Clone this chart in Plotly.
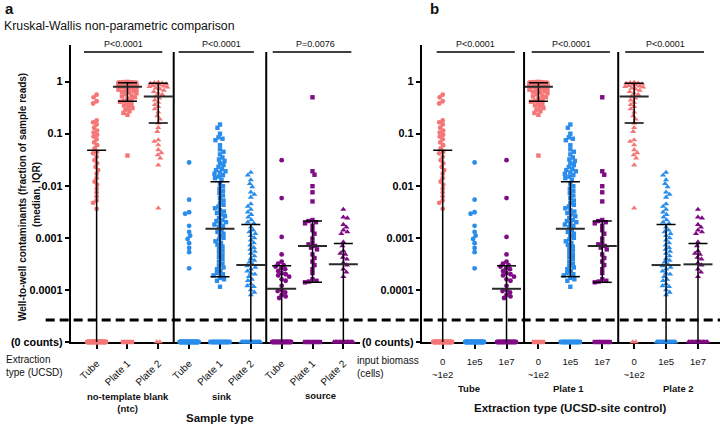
import math
import plotly.graph_objects as go

W, H = 720, 426
FONT = "Liberation Sans, Arial, Helvetica, sans-serif"

# ---------------- data (fractions of sample reads; zero-count samples listed as counts) -------------
SAMPLE_TYPES = ["ntc", "sink", "source"]
SAMPLE_LABELS = ["no-template blank<br>(ntc)", "sink", "source"]
EXTRACTIONS = ["Tube", "Plate 1", "Plate 2"]
BIOMASS_LABELS = ["0<br>~1e2", "1e5", "1e7"]

NTC_TUBE = [0.56, 0.5, 0.42, 0.38, 0.18, 0.165, 0.15, 0.13, 0.115, 0.105, 0.095, 0.088, 0.078,
            0.068, 0.06, 0.052, 0.045, 0.042, 0.036, 0.031, 0.027, 0.023, 0.02, 0.017, 0.014,
            0.012, 0.0105, 0.0088, 0.0074, 0.0062, 0.0052, 0.0047, 0.0036]
NTC_PLATE1 = [0.99, 0.98, 0.97, 0.97, 0.96, 0.96, 0.95, 0.95, 0.94, 0.93, 0.93, 0.92, 0.91, 0.9,
              0.9, 0.89, 0.88, 0.87, 0.86, 0.85, 0.84, 0.83, 0.82, 0.81, 0.8, 0.79, 0.78, 0.76,
              0.74, 0.72, 0.7, 0.68, 0.66, 0.64, 0.62, 0.6, 0.57, 0.54, 0.52, 0.5, 0.47, 0.45,
              0.43, 0.41, 0.39, 0.37, 0.35, 0.33, 0.31, 0.29, 0.27, 0.25, 0.23, 0.038]
NTC_PLATE2 = [0.97, 0.95, 0.93, 0.92, 0.9, 0.88, 0.86, 0.84, 0.82, 0.8, 0.78, 0.75, 0.72, 0.68,
              0.64, 0.6, 0.56, 0.52, 0.48, 0.44, 0.4, 0.36, 0.33, 0.3, 0.26, 0.22, 0.19, 0.16,
              0.13, 0.11, 0.076, 0.071, 0.061, 0.049, 0.043, 0.039, 0.034, 0.025, 0.0037]
SINK_TUBE = [0.028, 0.0054, 0.0031, 0.0029, 0.0017, 0.0013, 0.0011, 0.00095, 0.00079, 0.00064,
             0.00053, 0.00026]
SINK_PLATE1 = [0.15, 0.13, 0.1, 0.085, 0.08, 0.075, 0.06, 0.05, 0.045, 0.04, 0.035, 0.032, 0.03,
               0.027, 0.025, 0.023, 0.021, 0.02, 0.019, 0.018, 0.017, 0.016, 0.015, 0.014, 0.013,
               0.011, 0.0098, 0.0088, 0.008, 0.0072, 0.0065, 0.0058, 0.0052, 0.0047, 0.0043,
               0.004, 0.0037, 0.0034, 0.0032, 0.003, 0.0028, 0.0026, 0.0024, 0.0022, 0.0021,
               0.002, 0.0019, 0.0018, 0.0017, 0.0016, 0.0014, 0.0013, 0.0012, 0.0011, 0.001,
               0.00093, 0.00086, 0.0008, 0.00074, 0.00068, 0.00062, 0.00057, 0.00052, 0.00047,
               0.00043, 0.00039, 0.00035, 0.00032, 0.00029, 0.00027, 0.00025, 0.00023, 0.00021,
               0.0002, 0.00019, 0.00017, 0.00016, 0.00015, 0.000115]
SINK_PLATE2 = [0.018, 0.016, 0.013, 0.011, 0.0095, 0.0075, 0.0068, 0.006, 0.0045, 0.004, 0.0035,
               0.0031, 0.0028, 0.0025, 0.0022, 0.002, 0.0019, 0.0016, 0.0014, 0.0013, 0.0012,
               0.0011, 0.001, 0.0009, 0.0008, 0.00072, 0.00065, 0.0006, 0.00055, 0.0005, 0.00045,
               0.0004, 0.00037, 0.00034, 0.00031, 0.00029, 0.00027, 0.00025, 0.00023, 0.00021,
               0.0002, 0.00018, 0.00016, 0.00015, 0.00013, 0.00012, 0.000115, 0.0001, 0.00009,
               0.00008]
SOURCE_TUBE = [0.031, 0.0058, 0.00104, 0.00048, 0.00035, 0.00032, 0.0003, 0.00028, 0.00026,
               0.00025, 0.00023, 0.00021, 0.0002, 0.00019, 0.00018, 0.00016, 0.00015, 0.00012,
               0.0001, 0.000095, 0.00009, 0.00008, 0.000075, 0.00007]
SOURCE_PLATE1 = [0.5, 0.019, 0.0163, 0.0098, 0.0075, 0.005, 0.0022, 0.0021, 0.002, 0.0019,
                 0.0017, 0.0014, 0.0012, 0.00097, 0.0008, 0.00075, 0.0007, 0.00065, 0.0006,
                 0.00048, 0.00041, 0.00035, 0.0003, 0.00025, 0.00021, 0.00016, 0.00015,
                 0.000145, 0.00014]
SOURCE_PLATE2 = [0.0035, 0.0025, 0.0024, 0.0018, 0.0016, 0.0014, 0.0013, 0.0012, 0.00083,
                 0.0007, 0.00056, 0.0005, 0.00048, 0.00042, 0.00039, 0.00033, 0.0003, 0.00025,
                 0.00022, 0.00018]

VALUES = [[NTC_TUBE, NTC_PLATE1, NTC_PLATE2],
          [SINK_TUBE, SINK_PLATE1, SINK_PLATE2],
          [SOURCE_TUBE, SOURCE_PLATE1, SOURCE_PLATE2]]
# number of samples with zero counts, [sample type][extraction]
ZERO_COUNTS = [[35, 4, 2], [40, 20, 20], [22, 6, 15]]

# median and IQR, [sample type][extraction]
MEDIAN = [[0, 0.8, 0.52], [0, 0.0015, 0.0003], [0.000105, 0.0007, 0.00031]]
Q1 = [[0, 0.42, 0.16], [0, 0.00018, 0], [0, 0.00014, 0]]
Q3 = [[0.048, 0.95, 0.93], [0, 0.012, 0.0018], [0.00029, 0.0021, 0.00078]]

P_VALUES_A = ["P<0.0001", "P<0.0001", "P=0.0076"]
P_VALUES_B = ["P<0.0001", "P<0.0001", "P<0.0001"]

Y_TICK_VALS = [1, 0.1, 0.01, 0.001, 0.0001]
Y_TICK_TEXT = ["1", "0.1", "0.01", "0.001", "0.0001"]
ZERO_LABEL = "(0 counts)"
ZERO_LEVEL = 1e-5

COLORS = ["#F47676", "#2A8DEB", "#800B86"]
SYMBOLS = ["circle", "square", "triangle-up"]
SIZES = [4.8, 4.4, 5.4]

# ---------------- layout geometry ----------------
def px(x):
    return x / W

def py(y):
    return 1 - y / H

Y_DOM = [py(342), py(45)]
Y_RANGE = [-5, 0.703]
XA_DOM = [px(70.7), px(360)]
XA_RANGE = [-0.84, 8.54]
XB_DOM = [px(421.7), 1.0]
XB_RANGE = [-0.658, 8.69]
PX_PER_DEC = (342 - 45) / (Y_RANGE[1] - Y_RANGE[0])
UNIT_A = (360 - 70.7) / (XA_RANGE[1] - XA_RANGE[0])
UNIT_B = (720 - 421.7) / (XB_RANGE[1] - XB_RANGE[0])


def swarm_offsets(vals, d=3.9, w=9.0):
    order = sorted(range(len(vals)), key=lambda i: -vals[i])
    placed = []
    offs = [0.0] * len(vals)
    steps = [k * 0.5 for k in range(0, int(w * 2) + 1)]
    for n, i in enumerate(order):
        y = math.log10(vals[i]) * PX_PER_DEC
        sign = 1 if n % 2 == 0 else -1
        cands = []
        for s in steps:
            cands.append(s * sign)
            if s:
                cands.append(-s * sign)
        near = [(qy, qx) for qy, qx in placed if abs(qy - y) < d]
        best, bestd = 0.0, -1
        for c in cands:
            md = min((math.hypot(c - qx, y - qy) for qy, qx in near), default=1e9)
            if md >= d:
                best = c
                break
            if md > bestd:
                bestd, best = md, c
        placed.append((y, best))
        offs[i] = best
    return offs


def zero_offsets(n, step=3.0, maxspan=19.0):
    if n <= 1:
        return [0.0] * n
    span = min(maxspan, (n - 1) * step)
    return [-span / 2 + k * span / (n - 1) for k in range(n)]


PANEL_A_ORDER = [(s, e) for s in range(3) for e in range(3)]
PANEL_B_ORDER = [(s, e) for e in range(3) for s in range(3)]

fig = go.Figure()

for order, xa, ya, unit in [(PANEL_A_ORDER, "x", "y", UNIT_A), (PANEL_B_ORDER, "x2", "y2", UNIT_B)]:
    whisk_x, whisk_y, med_x, med_y = [], [], [], []
    for pos, (s, e) in enumerate(order):
        vals = VALUES[s][e]
        nz = ZERO_COUNTS[s][e]
        offs = swarm_offsets(vals) + zero_offsets(nz)
        ys = list(vals) + [ZERO_LEVEL] * nz
        xs = [pos + o / unit for o in offs]
        fig.add_trace(go.Scatter(
            x=xs, y=ys, xaxis=xa, yaxis=ya, mode="markers", cliponaxis=False,
            marker=dict(symbol=SYMBOLS[e], size=SIZES[e], color=COLORS[s], line=dict(width=0)),
            hoverinfo="skip", showlegend=False))
        q1, q3, med = Q1[s][e], Q3[s][e], MEDIAN[s][e]
        cap = 9.5 / unit
        mw = 14.5 / unit
        if q3 > 0:
            lo = q1 if q1 > 0 else ZERO_LEVEL
            whisk_x += [pos, pos, None, pos - cap, pos + cap, None]
            whisk_y += [lo, q3, None, q3, q3, None]
            if q1 > 0:
                whisk_x += [pos - cap, pos + cap, None]
                whisk_y += [q1, q1, None]
        if med > 0:
            med_x += [pos - mw, pos + mw, None]
            med_y += [med, med, None]
    fig.add_trace(go.Scatter(x=whisk_x, y=whisk_y, xaxis=xa, yaxis=ya, mode="lines",
                             cliponaxis=False, line=dict(color="black", width=1.5),
                             hoverinfo="skip", showlegend=False))
    fig.add_trace(go.Scatter(x=med_x, y=med_y, xaxis=xa, yaxis=ya, mode="lines",
                             cliponaxis=False, line=dict(color="#2a2a2a", width=2),
                             hoverinfo="skip", showlegend=False))

yax = dict(type="log", range=Y_RANGE, domain=Y_DOM, showline=True, linecolor="black",
           linewidth=2, ticks="outside", ticklen=4, tickwidth=1.5, tickcolor="black",
           tickvals=Y_TICK_VALS + [ZERO_LEVEL],
           ticktext=[f"<b>{t}</b>" for t in Y_TICK_TEXT] + [f"<b>{ZERO_LABEL}</b>"],
           tickfont=dict(size=10.8, color="black", family=FONT), showgrid=False,
           zeroline=False, layer="below traces", automargin=False)
xcommon = dict(showline=True, linecolor="black", linewidth=1.5, ticks="outside", ticklen=5,
               tickwidth=1.5, tickcolor="black", showgrid=False, zeroline=False,
               tickvals=list(range(9)), layer="below traces", automargin=False)

fig.update_layout(
    width=W, height=H, template="none",
    margin=dict(l=0, r=0, t=0, b=0),
    paper_bgcolor="white", plot_bgcolor="rgba(0,0,0,0)",
    font=dict(family=FONT, color="#111"),
    showlegend=False,
    xaxis=dict(domain=XA_DOM, range=XA_RANGE, anchor="y", tickangle=-45, ticklabelstandoff=5,
               ticktext=EXTRACTIONS * 3, tickfont=dict(size=10, color="#111", family=FONT),
               **xcommon),
    xaxis2=dict(domain=XB_DOM, range=XB_RANGE, anchor="y2", tickangle=0, ticklabelstandoff=5,
                ticktext=BIOMASS_LABELS * 3, tickfont=dict(size=9.5, color="#111", family=FONT),
                **xcommon),
    yaxis=dict(anchor="x", **yax),
    yaxis2=dict(anchor="x2", **yax),
)

shapes = []
# group separators
for xref, xs in [("x", [2.5, 5.5]), ("x2", [2.55, 5.5])]:
    for xv in xs:
        shapes.append(dict(type="line", xref=xref, yref="paper", x0=xv, x1=xv,
                           y0=py(342), y1=py(52), line=dict(color="black", width=2)))
# P-value bars
P_BARS_A = [(-0.41, 2.13), (2.66, 5.10), (5.71, 8.26)]
P_BARS_B = [(-0.19, 2.26), (2.79, 5.24), (5.72, 8.19)]
for xref, bars in [("x", P_BARS_A), ("x2", P_BARS_B)]:
    for x0, x1 in bars:
        shapes.append(dict(type="line", xref=xref, yref="paper", x0=x0, x1=x1,
                           y0=py(52), y1=py(52), line=dict(color="black", width=1.6)))
# zero-count break line
shapes.append(dict(type="line", xref="paper", yref="paper", x0=px(45.7), x1=1.0,
                   y0=py(320), y1=py(320), line=dict(color="black", width=3, dash="9px,5px")))
fig.update_layout(shapes=shapes)

ann = []


def text(x, y, t, size, xanchor="center", bold=False, align="center", angle=0):
    if bold:
        t = f"<b>{t}</b>"
    ann.append(dict(x=px(x), y=py(y), xref="paper", yref="paper", text=t, showarrow=False,
                    xanchor=xanchor, yanchor="middle", align=align, textangle=angle,
                    font=dict(size=size, color="#111", family=FONT)))


text(3, 8, "a", 15, xanchor="left", bold=True)
text(2, 26, "Kruskal-Wallis non-parametric comparison", 12.3, xanchor="left")
text(428, 8, "b", 15, xanchor="left", bold=True)
text(22, 197, "Well-to-well contaminants (fraction of sample reads)", 10, bold=True, angle=-90)
text(36, 195, "(median, IQR)", 10, bold=True, angle=-90)

P_TEXT_A = [0.86, 4.06, 7.09]
P_TEXT_B = [1.02, 4.03, 6.98]
for xref, xs, labels in [("x", P_TEXT_A, P_VALUES_A), ("x2", P_TEXT_B, P_VALUES_B)]:
    for xv, lab in zip(xs, labels):
        ann.append(dict(x=xv, y=py(44), xref=xref, yref="paper", text=lab, showarrow=False,
                        xanchor="center", yanchor="middle",
                        font=dict(size=9, color="#111", family=FONT)))

text(4, 366, "Extraction<br>type (UCSD)", 10, xanchor="left", align="left")
text(355, 367, "input biomass<br>(cells)", 10, xanchor="left", align="left")
text(128, 402.5, SAMPLE_LABELS[0], 9.5, bold=True)
text(222, 396.7, SAMPLE_LABELS[1], 9.5, bold=True)
text(320, 395, SAMPLE_LABELS[2], 9.5, bold=True)
text(220, 418.3, "Sample type", 11.5, bold=True)
text(469, 388.3, EXTRACTIONS[0], 9.5, bold=True)
text(568, 388.3, EXTRACTIONS[1], 9.5, bold=True)
text(678, 388.3, EXTRACTIONS[2], 9.5, bold=True)
text(570, 408.3, "Extraction type (UCSD-site control)", 11.5, bold=True)
fig.update_layout(annotations=ann)

fig.write_html("out.html", config={"displayModeBar": False},
               post_script="document.body.style.margin='0';")
